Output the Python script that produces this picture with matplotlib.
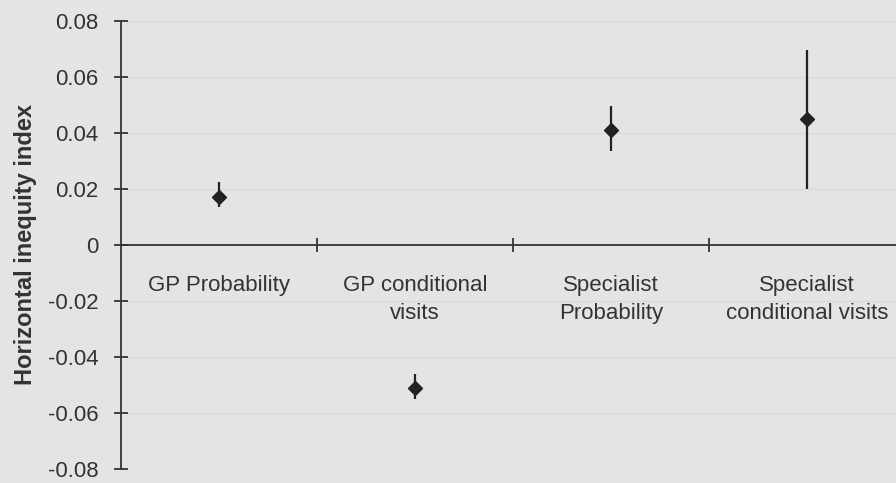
import matplotlib.pyplot as plt

categories = ['GP Probability', 'GP conditional\nvisits',
              'Specialist\nProbability', 'Specialist\nconditional visits']
hi_index = [0.0172, -0.0511, 0.0411, 0.0448]
ci_low = [0.0135, -0.0550, 0.0334, 0.0199]
ci_high = [0.0224, -0.0461, 0.0497, 0.0695]
y_ticks = [-0.08, -0.06, -0.04, -0.02, 0, 0.02, 0.04, 0.06, 0.08]
y_tick_labels = ['-0.08', '-0.06', '-0.04', '-0.02', '0', '0.02', '0.04', '0.06', '0.08']

plt.rcParams['font.family'] = ['Liberation Sans', 'DejaVu Sans']
bg = '#e4e4e4'
ink = '#333333'

fig = plt.figure(figsize=(8.96, 4.83), dpi=100, facecolor=bg)
ax = fig.add_axes([0.135, 0.03, 0.875, 0.927])
ax.set_facecolor(bg)

x = list(range(len(categories)))
err_low = [v - lo for v, lo in zip(hi_index, ci_low)]
err_high = [hi - v for v, hi in zip(hi_index, ci_high)]
ax.errorbar(x, hi_index, yerr=[err_low, err_high], fmt='D', color='#222222',
            markersize=7.5, elinewidth=1.6, capsize=0, zorder=3)

ax.set_xlim(-0.5, 3.5)
ax.set_ylim(-0.08, 0.08)
ax.set_yticks(y_ticks)
ax.set_yticklabels(y_tick_labels, fontsize=16, color=ink)
ax.set_xticks([0.5, 1.5, 2.5, 3.5])
ax.set_xticklabels([])

# faint horizontal lines
for t in y_ticks:
    if t != 0:
        ax.axhline(t, color='#d8d8d8', linewidth=0.8, zorder=0)

for s in ['top', 'right']:
    ax.spines[s].set_visible(False)
ax.spines['bottom'].set_position(('data', 0))
ax.spines['left'].set_color(ink)
ax.spines['bottom'].set_color(ink)
ax.spines['left'].set_linewidth(1.3)
ax.spines['bottom'].set_linewidth(1.3)
ax.tick_params(axis='y', direction='inout', length=10, width=1.3, color=ink, pad=11)
ax.tick_params(axis='x', direction='inout', length=10, width=1.3, color=ink)

for xi, lab in zip(x, categories):
    ax.text(xi, -0.011, lab, ha='center', va='top', fontsize=16,
            color=ink, linespacing=1.4)

ax.set_ylabel('Horizontal inequity index', fontsize=17, fontweight='bold',
              color=ink, labelpad=8)

plt.savefig('out.png', dpi=100, facecolor=bg)
